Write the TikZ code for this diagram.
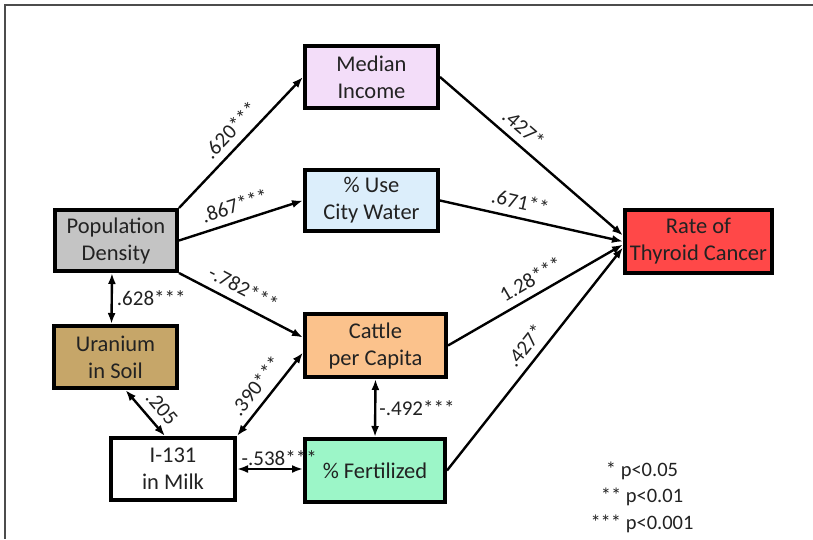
\documentclass[tikz,border=0pt]{standalone}
\usepackage{fontspec}
\setmainfont{Carlito}
\usetikzlibrary{arrows.meta}
\definecolor{txt}{HTML}{222222}
\definecolor{cIncome}{HTML}{F3DDF9}
\definecolor{cWater}{HTML}{DCEEFB}
\definecolor{cDensity}{HTML}{C4C4C4}
\definecolor{cUranium}{HTML}{C6A669}
\definecolor{cCattle}{HTML}{FBC28C}
\definecolor{cFert}{HTML}{9CF6C8}
\definecolor{cRate}{HTML}{FF4848}
\begin{document}
\begin{tikzpicture}[x=1pt,y=-1pt,
  every node/.style={text=txt},
  var/.style={draw=black,line width=4pt,inner sep=0pt,align=center,
    font=\fontsize{22.5}{27}\selectfont},
  coef/.style={font=\fontsize{21}{24}\selectfont,inner sep=3pt},
  along/.style={coef,sloped,above,inner sep=7.5pt},
  path/.style={line width=2.4pt,-{Latex[length=11pt,width=8pt]}},
  both/.style={line width=2.4pt,{Latex[length=11pt,width=8pt]}-{Latex[length=11pt,width=8pt]}}]
\useasboundingbox (0,0) rectangle (813,539);
% frame
\draw[line width=2pt,black!70] (813,5) -- (5,5) -- (5,539);

% variables
\node[var,fill=cIncome,minimum width=133pt,minimum height=62pt] (MI) at (371.5,77) {Median\\Income};
\node[var,fill=cWater,minimum width=133pt,minimum height=61pt] (CW) at (371.5,200.5) {\% Use\\City Water};
\node[var,fill=cDensity,minimum width=122pt,minimum height=61pt] (PD) at (116,240.5) {Population\\Density};
\node[var,fill=cUranium,minimum width=123pt,minimum height=62pt] (U) at (115.5,357) {Uranium\\in Soil};
\node[var,fill=white,minimum width=124pt,minimum height=62pt] (I) at (173,469) {I-131\\in Milk};
\node[var,fill=cCattle,minimum width=141pt,minimum height=63pt] (C) at (375.5,345.5) {Cattle\\per Capita};
\node[var,fill=cFert,minimum width=140pt,minimum height=63pt] (F) at (375,470.5) {\% Fertilized};
\node[var,fill=cRate,minimum width=147pt,minimum height=63pt] (R) at (698.5,241.5) {Rate of\\Thyroid Cancer};

% paths from population density
\draw[path] (PD.north east) -- node[along,pos=0.51] {.620***} (MI.west);
\draw[path] (PD.east) -- node[along,pos=0.49] {.867***} (CW.west);
\draw[path] (PD.south east) -- node[along,pos=0.46] {-.782***} ([yshift=8pt]C.west);
\draw[both] ([xshift=-4pt]PD.south) -- node[coef,right,inner sep=4pt] {.628***} ([xshift=-4pt]U.north);

% links among soil, milk, cattle and fertilizer
\draw[both] ([xshift=10pt]U.south) -- node[along,pos=0.62] {.205} ([xshift=-8pt]I.north);
\draw[both] (I.north east) -- node[along,pos=0.48] {.390***} ([yshift=-7pt]C.west);
\draw[both] (I.east) -- node[coef,above,pos=0.64,inner sep=2pt] {-.538***} (I.east -| F.west);
\draw[both] (C.south) -- node[coef,right,inner sep=3pt] {-.492***} (F.north);

% paths into thyroid cancer rate
\draw[path] (MI.east) -- node[along,pos=0.40] {.427*} ([yshift=6pt]R.west);
\draw[path] (CW.east) -- node[along,pos=0.42] {.671**} (R.west);
\draw[path] (C.east) -- node[along,pos=0.52] {1.28***} ([yshift=-3pt]R.west);
\draw[path] (F.east) -- node[along,pos=0.515] {.427*} ([yshift=-6pt]R.west);

% significance legend
\node[align=center,font=\fontsize{20.5}{26.5}\selectfont] (key) at (642,497) {* p<0.05\\** p<0.01\\*** p<0.001};
\end{tikzpicture}
\end{document}
